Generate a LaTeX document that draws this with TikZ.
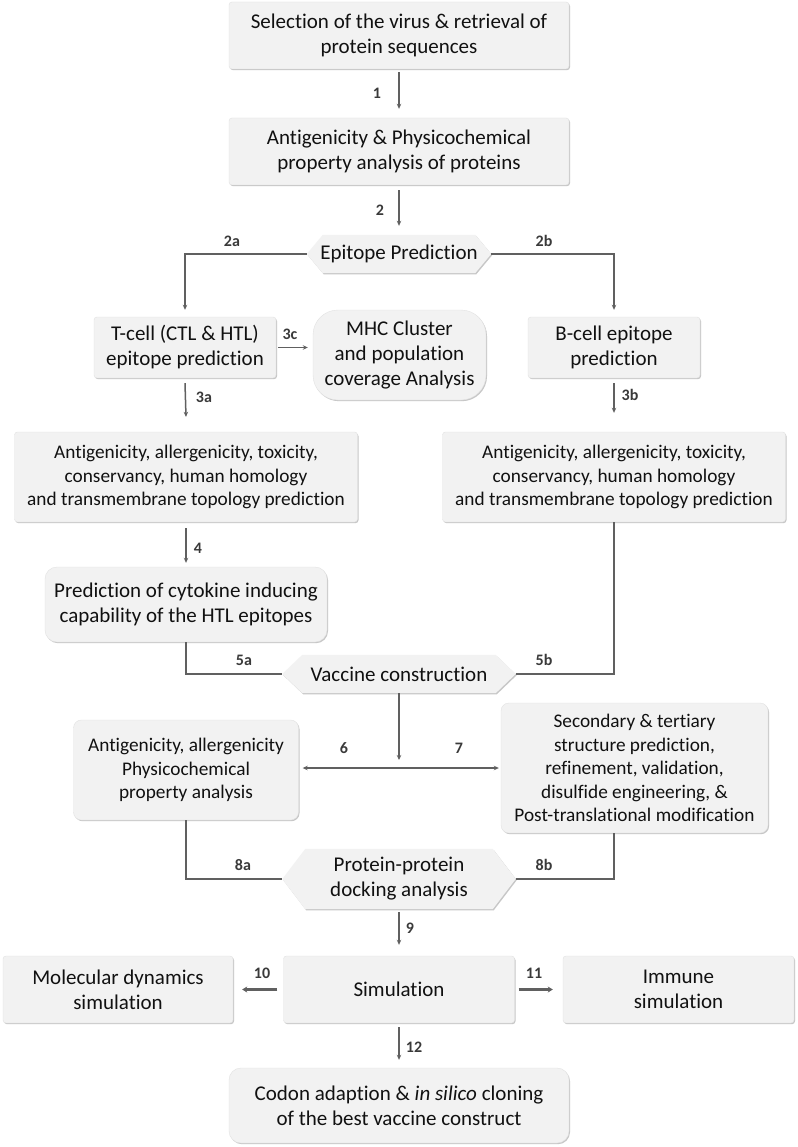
\documentclass[tikz,border=0pt]{standalone}
\usepackage{fontspec}
\setmainfont{Carlito}[Ligatures=NoCommon]
\usetikzlibrary{arrows.meta,shadows,calc,backgrounds}
\definecolor{boxfill}{HTML}{F2F2F2}
\definecolor{boxedge}{HTML}{E2E2E2}
\definecolor{linec}{HTML}{606060}
\definecolor{labc}{HTML}{3A3A3A}
\definecolor{txtc}{HTML}{111111}
\newcommand\fbig{\fontsize{21}{25}\selectfont}
\newcommand\fsmall{\fontsize{19.3}{23.4}\selectfont}
\tikzset{
  shd/.style={drop shadow={shadow xshift=1pt,shadow yshift=-1.2pt,fill=black!40,opacity=0.55}},
  box/.style={draw=boxedge, line width=0.4pt, fill=boxfill, rounded corners=3pt, align=center,
    inner sep=0pt, text=txtc, font=\fbig, shd},
  sbox/.style={box, font=\fsmall},
  rbox/.style={box, rounded corners=12pt},
  hexn/.style={inner sep=0pt, align=center, text=txtc, font=\fbig},
  lab/.style={font=\fontsize{16}{16}\selectfont\bfseries, text=labc, inner sep=0pt},
  ln/.style={draw=linec, line width=1.5pt},
  arr/.style={ln, -{Stealth[length=5pt,width=4.5pt]}},
  tarr/.style={arr, line width=2.6pt, -{Stealth[length=5pt,width=6pt]}},
}
\begin{document}
\begin{tikzpicture}[x=1pt,y=-1pt]
\useasboundingbox (0,0) rectangle (797,1147);

% boxes
\node[box, minimum width=340pt, minimum height=67pt] (b1) at (399,35.5) {Selection of the virus \& retrieval of\\protein sequences};
\node[box, minimum width=340pt, minimum height=67pt] (b2) at (399,151.5) {Antigenicity \& Physicochemical\\property analysis of proteins};
\node[hexn, minimum width=184pt, minimum height=38pt] (h1) at (399,254) {Epitope Prediction};
\node[box, minimum width=182pt, minimum height=61pt] (tc) at (185,347.5) {T-cell (CTL \& HTL)\\epitope prediction};
\node[box, rounded corners=25pt, minimum width=173pt, minimum height=90pt] (mhc) at (399.5,355) {MHC Cluster\\and population\\coverage Analysis};
\node[box, minimum width=172pt, minimum height=61pt] (bc) at (614,347.5) {B-cell epitope\\prediction};
\node[sbox, minimum width=343pt, minimum height=90pt] (a3) at (186,477) {Antigenicity, allergenicity, toxicity,\\conservancy, human homology\\and transmembrane topology prediction};
\node[sbox, minimum width=343pt, minimum height=90pt] (b3) at (614,477) {Antigenicity, allergenicity, toxicity,\\conservancy, human homology\\and transmembrane topology prediction};
\node[rbox, minimum width=282pt, minimum height=75pt] (cy) at (186,604.5) {Prediction of cytokine inducing\\capability of the HTL epitopes};
\node[hexn, minimum width=233pt, minimum height=38pt] (h2) at (399,674) {Vaccine construction};
\node[sbox, rounded corners=8pt, minimum width=225pt, minimum height=100pt] (l6) at (186,770) {Antigenicity, allergenicity\\Physicochemical\\property analysis};
\node[sbox, rounded corners=8pt, minimum width=267pt, minimum height=130pt] (r7) at (634.5,768) {Secondary \& tertiary\\structure prediction,\\refinement, validation,\\disulfide engineering, \&\\Post-translational modification};
\node[hexn, minimum width=233pt, minimum height=60pt] (h3) at (399,879) {Protein-protein\\docking analysis};
\node[box, minimum width=231pt, minimum height=67pt] (sim) at (399,989.5) {Simulation};
\node[box, minimum width=230pt, minimum height=67pt] (md) at (118,989.5) {Molecular dynamics\\simulation};
\node[box, minimum width=231pt, minimum height=67pt] (im) at (678.5,989.5) {Immune\\simulation};
\node[rbox, minimum width=340pt, minimum height=75pt] (cd) at (399,1105.5) {Codon adaption \& \textit{in silico} cloning\\of the best vaccine construct};

% background and hexagon shapes
\begin{scope}[on background layer]
\fill[white] (0,0) rectangle (797,1147);
\fill[boxfill, shd] ($(h1.north west)+(16,0)$) -- (h1.west) -- ($(h1.south west)+(16,0)$) -- ($(h1.south east)+(-16,0)$) -- (h1.east) -- ($(h1.north east)+(-16,0)$) -- cycle;
\fill[boxfill, shd] ($(h2.north west)+(20,0)$) -- (h2.west) -- ($(h2.south west)+(20,0)$) -- ($(h2.south east)+(-20,0)$) -- (h2.east) -- ($(h2.north east)+(-20,0)$) -- cycle;
\fill[boxfill, shd] ($(h3.north west)+(23,0)$) -- (h3.west) -- ($(h3.south west)+(23,0)$) -- ($(h3.south east)+(-23,0)$) -- (h3.east) -- ($(h3.north east)+(-23,0)$) -- cycle;
\end{scope}

% helper coordinates
\coordinate (jn) at (399,768);
\coordinate (rc) at (614,0);

% connectors
\draw[arr] ([yshift=-3pt]b1.south) -- ([yshift=9pt]b2.north);
\draw[arr] ([yshift=-5pt]b2.south) -- ([yshift=9pt]h1.north);
\draw[arr] (h1.west) -| ([yshift=7pt]tc.north);
\draw[arr] (h1.east) -| ([yshift=7pt]bc.north);
\draw[arr] ([xshift=2pt]tc.east) -- ([xshift=-5pt]tc.east -| mhc.west);
\draw[arr] ([yshift=-5pt]tc.south) -- ([yshift=15pt]a3.north);
\draw[arr] ([yshift=-5pt]bc.south) -- ([yshift=19pt]b3.north);
\draw[arr] ([yshift=-6pt]a3.south) -- ([yshift=4pt]cy.north);
\draw[ln] (cy.south) |- (h2.west);
\draw[ln] (h2.east) -| (b3.south);
\draw[arr] (h2.south) -- ([yshift=8pt]jn);
\draw[arr] (jn) -- ([xshift=4pt]jn -| l6.east);
\draw[arr] (jn) -- ([xshift=-2pt]jn -| r7.west);
\draw[ln] (l6.south) |- (h3.west);
\draw[ln] (h3.east) -| (r7.south -| rc);
\draw[arr] ([yshift=-3pt]h3.south) -- ([yshift=11pt]sim.north);
\draw[tarr] ([xshift=-6pt]sim.west) -- ([xshift=9pt]md.east);
\draw[tarr] ([xshift=4pt]sim.east) -- ([xshift=-10pt]im.west);
\draw[arr] ([yshift=-4pt]sim.south) -- ([yshift=8pt]cd.north);

% labels
\node[lab] (l1) at (377,93) {1};
\node[lab] (l2) at (380,210) {2};
\node[lab] (l2a) at (232,241) {2a};
\node[lab] (l2b) at (544,241) {2b};
\node[lab] (l3c) at (290,334) {3c};
\node[lab] (l3a) at (204,397) {3a};
\node[lab] (l3b) at (630,395) {3b};
\node[lab] (l4) at (198,548) {4};
\node[lab] (l5a) at (244,660) {5a};
\node[lab] (l5b) at (544,660) {5b};
\node[lab] (l6n) at (344,748) {6};
\node[lab] (l7n) at (459,748) {7};
\node[lab] (l8a) at (243,865) {8a};
\node[lab] (l8b) at (544,865) {8b};
\node[lab] (l9) at (410,928) {9};
\node[lab] (l10) at (262,973) {10};
\node[lab] (l11) at (534,973) {11};
\node[lab] (l12) at (414,1047) {12};
\end{tikzpicture}
\end{document}
